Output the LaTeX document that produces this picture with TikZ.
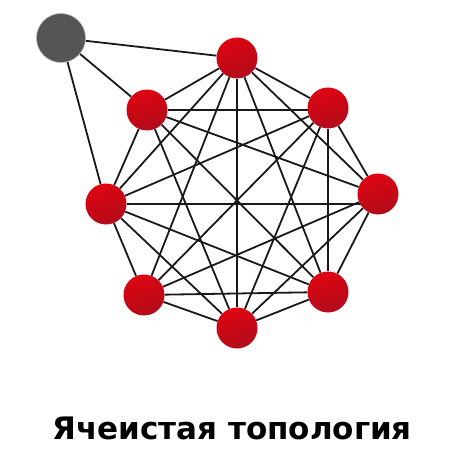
\documentclass[tikz,border=0pt]{standalone}
\usepackage{fontspec}
\setmainfont{DejaVu Sans}
\usetikzlibrary{backgrounds}
\definecolor{meshred}{HTML}{DE0410}
\definecolor{meshdark}{HTML}{B20C1C}
\definecolor{hostgray}{HTML}{555555}
\tikzset{
  hub/.style={circle, minimum size=41pt, inner sep=0pt, top color=meshred, bottom color=meshdark, shading angle=20},
  host/.style={circle, minimum size=49pt, inner sep=0pt, fill=hostgray, draw=gray!60, line width=0.6pt},
  link/.style={line width=1.8pt, black!90}
}
\begin{document}
\begin{tikzpicture}[x=1pt,y=-1pt]
  \useasboundingbox (0,0) rectangle (465,465);
  % routers of the mesh
  \node[hub] (t) at (237,58) {};
  \node[hub] (ul) at (147,110) {};
  \node[hub] (ur) at (328,108) {};
  \node[hub] (l) at (106,204) {};
  \node[hub] (r) at (378,194) {};
  \node[hub] (ll) at (144,295) {};
  \node[hub] (lr) at (328,292) {};
  \node[hub] (b) at (237,328) {};
  \node[host] (g) at (61,38) {};
  % links (all pairs but ul--ll)
  \begin{pgfonlayer}{background}
  \foreach \a/\z in {t/ul,t/ur,t/l,t/r,t/ll,t/lr,t/b,
                     ul/l,ul/r,ul/lr,ul/b,
                     ur/l,ur/r,ur/ll,ur/lr,ur/b,
                     l/ll,l/lr,l/b,
                     r/ll,r/lr,r/b,
                     ll/lr,ll/b,lr/b,
                     g/t,g/ul,g/l}
    \draw[link] (\a) -- (\z);
  \draw[link] (ul) -- (ul -| ur);
  \draw[link] (l) -- (l -| r);
  \end{pgfonlayer}
  \node[font=\bfseries\fontsize{31}{31}\selectfont, anchor=base] (cap) at (232,439) {Ячеистая топология};
\end{tikzpicture}
\end{document}
